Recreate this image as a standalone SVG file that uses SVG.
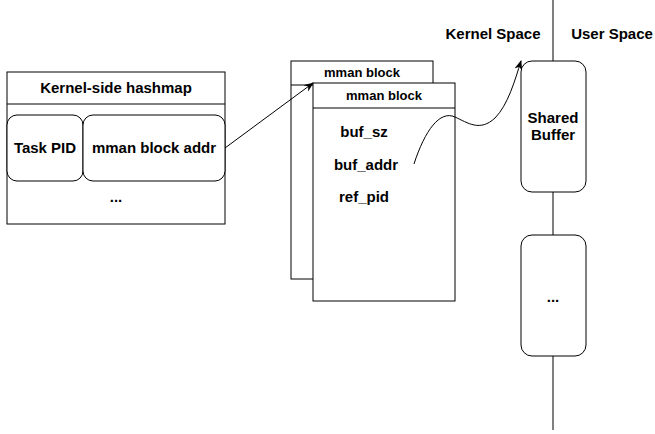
<svg xmlns="http://www.w3.org/2000/svg" width="655" height="434" viewBox="0 0 655 434">
<defs>
<style>
.b{fill:#fff;stroke:#000;stroke-width:1}
.l{fill:none;stroke:#000;stroke-width:1}
text{font-family:"Liberation Sans",Arial,sans-serif;font-weight:bold;font-size:15px;fill:#000;text-anchor:middle}
.s{font-size:13px}
</style>
<marker id="ah" viewBox="0 0 10 10" refX="9" refY="5" markerWidth="10" markerHeight="10" markerUnits="userSpaceOnUse" orient="auto">
<path d="M0,1 L10,5 L0,9 L3,5 Z" fill="#000"/>
</marker>
</defs>
<g id="divider">
<line class="l" x1="553" y1="0" x2="553" y2="430"/>
<text x="493" y="39">Kernel Space</text>
<text x="612" y="39">User Space</text>
</g>
<g id="hashmap">
<rect class="b" x="7" y="72" width="218" height="152"/>
<line class="l" x1="7" y1="104" x2="225" y2="104"/>
<text x="116" y="93">Kernel-side hashmap</text>
<rect class="b" x="7" y="115" width="76" height="66" rx="10"/>
<text x="45" y="153">Task PID</text>
<rect class="b" x="83" y="115" width="142" height="66" rx="10"/>
<text x="154" y="153">mman block addr</text>
<text x="116" y="202">...</text>
</g>
<g id="mman-back">
<rect class="b" x="291" y="61" width="142" height="218"/>
<line class="l" x1="291" y1="85" x2="433" y2="85"/>
<text class="s" x="362" y="77">mman block</text>
</g>
<g id="mman-front">
<rect class="b" x="313" y="83" width="142" height="218"/>
<line class="l" x1="313" y1="108" x2="455" y2="108"/>
<text class="s" x="384" y="100">mman block</text>
<text x="364" y="137">buf_sz</text>
<text x="366" y="170">buf_addr</text>
<text x="364" y="202">ref_pid</text>
</g>
<g id="shared-buffer">
<rect class="b" x="521" y="61" width="65" height="131" rx="11"/>
<text x="553" y="123">Shared</text>
<text x="553" y="140">Buffer</text>
</g>
<g id="other-buffer">
<rect class="b" x="521" y="235" width="65" height="121" rx="11"/>
<text x="553" y="302">...</text>
</g>
<g id="connectors">
<line class="l" x1="225" y1="148" x2="313" y2="83" marker-end="url(#ah)"/>
<path class="l" d="M414,164 C425,130 440,110 455,117 C468,123 480,132 495,118 C508,105 515,80 521,61" marker-end="url(#ah)"/>
</g>
</svg>
